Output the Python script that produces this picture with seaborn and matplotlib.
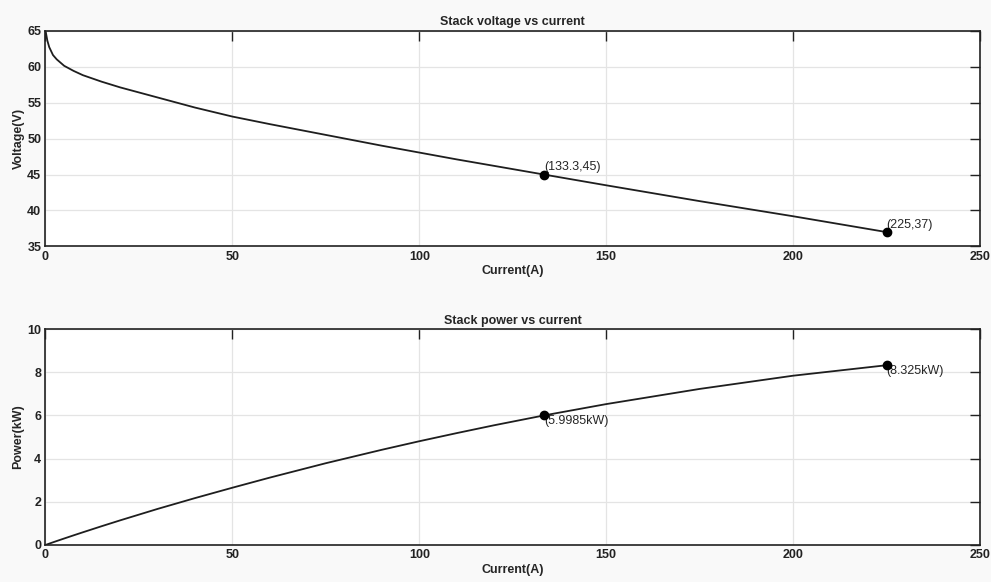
import matplotlib
matplotlib.use('Agg')
import matplotlib.pyplot as plt
import seaborn as sns
import pandas as pd

current = [0, 0.5, 1, 2, 3, 5, 7.5, 10, 15, 20, 30, 40, 50, 60, 75, 90,
           100, 110, 120, 133.3, 150, 175, 200, 225]
voltage = [65.0, 63.6, 62.7, 61.6, 61.0, 60.1, 59.4, 58.8, 57.9, 57.1, 55.7,
           54.3, 53.05, 52.0, 50.5, 49.0, 48.05, 47.1, 46.2, 45.0, 43.5, 41.3,
           39.2, 37.0]
power = [0.0, 0.0318, 0.0627, 0.1232, 0.183, 0.3005, 0.4455, 0.588, 0.8685,
         1.142, 1.671, 2.172, 2.6525, 3.12, 3.7875, 4.41, 4.805, 5.181, 5.544,
         5.9985, 6.525, 7.2275, 7.84, 8.325]

v_marks_x = [133.3, 225]
v_marks_y = [45, 37]
v_labels = ['(133.3,45)', '(225,37)']
p_marks_x = [133.3, 225]
p_marks_y = [5.9985, 8.325]
p_labels = ['(5.9985kW)', '(8.325kW)']

df = pd.DataFrame({'current': current, 'voltage': voltage, 'power': power})

sns.set_style('whitegrid')
plt.rcParams['font.family'] = ['Liberation Sans', 'DejaVu Sans']
plt.rcParams['font.weight'] = 'bold'
plt.rcParams['axes.titleweight'] = 'bold'
plt.rcParams['axes.labelweight'] = 'bold'

fig = plt.figure(figsize=(9.91, 5.82), dpi=100, facecolor='#f9f9f9')
ax1 = fig.add_axes([0.0459, 0.5765, 0.943, 0.371])
ax2 = fig.add_axes([0.0459, 0.0636, 0.943, 0.371])


def style(ax, ylim, yticks, ylabel, title):
    ax.set_facecolor('white')
    ax.set_xlim(0, 250)
    ax.set_ylim(*ylim)
    ax.set_xticks([0, 50, 100, 150, 200, 250])
    ax.set_yticks(yticks)
    ax.grid(True, color='#e4e4e4', linewidth=0.9)
    for s in ax.spines.values():
        s.set_color('#222222')
        s.set_linewidth(1.2)
    ax.tick_params(direction='in', length=7, width=1, top=True, right=True,
                   labelsize=9, colors='#222222', pad=3)
    ax.set_xlabel('Current(A)', fontsize=9, labelpad=2)
    ax.set_ylabel(ylabel, fontsize=9, labelpad=2)
    ax.set_title(title, fontsize=9, pad=4)


sns.lineplot(data=df, x='current', y='voltage', ax=ax1, color='#1e1e1e',
             linewidth=1.3)
ax1.scatter(v_marks_x, v_marks_y, s=36, color='black', zorder=5)
for x, y, t in zip(v_marks_x, v_marks_y, v_labels):
    ax1.annotate(t, (x, y), xytext=(0, 1), textcoords='offset points',
                 fontsize=9, fontweight='normal', ha='left', va='bottom')
style(ax1, (35, 65), [35, 40, 45, 50, 55, 60, 65], 'Voltage(V)',
      'Stack voltage vs current')

sns.lineplot(data=df, x='current', y='power', ax=ax2, color='#1e1e1e',
             linewidth=1.3)
ax2.scatter(p_marks_x, p_marks_y, s=36, color='black', zorder=5)
for x, y, t in zip(p_marks_x, p_marks_y, p_labels):
    ax2.annotate(t, (x, y), xytext=(0, 0), textcoords='offset points',
                 fontsize=9, fontweight='normal', ha='left', va='top')
style(ax2, (0, 10), [0, 2, 4, 6, 8, 10], 'Power(kW)',
      'Stack power vs current')

fig.savefig('out.png', dpi=100, facecolor=fig.get_facecolor())
